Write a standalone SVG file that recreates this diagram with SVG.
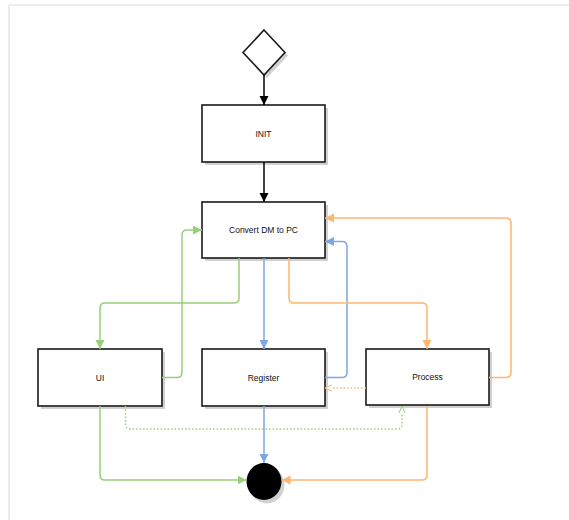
<svg xmlns="http://www.w3.org/2000/svg" width="569" height="520" viewBox="0 0 569 520">
<style>
.box{fill:#fff;stroke:#1a1a1a;stroke-width:1.6}
.shadow{fill:#b3b3b3;opacity:0.6}
.lbl{font-family:"Liberation Sans",Arial,sans-serif;font-size:8.5px;fill:#111;text-anchor:middle;dominant-baseline:central}
.c{fill:none;stroke-width:1.5}
.k{stroke:#000}
.g{stroke:#97D077}
.b{stroke:#7EA6E0}
.o{stroke:#FFB570}
.dot{stroke-dasharray:1.5 2}
</style>
<defs>
<marker id="ak" markerUnits="userSpaceOnUse" markerWidth="10" markerHeight="10" refX="9" refY="4.5" orient="auto"><path d="M0,0 L9,4.5 L0,9 z" fill="#000"/></marker>
<marker id="ag" markerUnits="userSpaceOnUse" markerWidth="10" markerHeight="10" refX="9" refY="4.5" orient="auto"><path d="M0,0 L9,4.5 L0,9 z" fill="#97D077"/></marker>
<marker id="ab" markerUnits="userSpaceOnUse" markerWidth="10" markerHeight="10" refX="9" refY="4.5" orient="auto"><path d="M0,0 L9,4.5 L0,9 z" fill="#7EA6E0"/></marker>
<marker id="ao" markerUnits="userSpaceOnUse" markerWidth="10" markerHeight="10" refX="9" refY="4.5" orient="auto"><path d="M0,0 L9,4.5 L0,9 z" fill="#FFB570"/></marker>
<marker id="og" markerUnits="userSpaceOnUse" markerWidth="10" markerHeight="10" refX="8" refY="4" orient="auto"><path d="M1,1 L8,4 L1,7" fill="#fff" stroke="#97D077" stroke-width="1"/></marker>
<marker id="oo" markerUnits="userSpaceOnUse" markerWidth="10" markerHeight="10" refX="8" refY="4" orient="auto"><path d="M1,1 L8,4 L1,7" fill="#fff" stroke="#FFB570" stroke-width="1"/></marker>
</defs>
<rect x="9" y="5" width="570" height="530" fill="#fff" stroke="#e6e6e6" stroke-width="1.5"/>

<g id="start">
<polygon class="shadow" points="267,33 288,55.5 267,78 246,55.5"/>
<polygon class="box" points="264,30 285,52.5 264,75 243,52.5"/>
</g>
<g id="init">
<rect class="shadow" x="205" y="108" width="123" height="57"/>
<rect class="box" x="202" y="105" width="123" height="57"/>
<text class="lbl" x="263.5" y="133.5">INIT</text>
</g>
<g id="convert">
<rect class="shadow" x="205" y="205" width="123" height="56"/>
<rect class="box" x="202" y="202" width="123" height="56"/>
<text class="lbl" x="263.5" y="230">Convert DM to PC</text>
</g>
<g id="ui">
<rect class="shadow" x="41" y="352" width="124" height="57"/>
<rect class="box" x="38" y="349" width="124" height="57"/>
<text class="lbl" x="100" y="377.5">UI</text>
</g>
<g id="register">
<rect class="shadow" x="205" y="352" width="123" height="57"/>
<rect class="box" x="202" y="349" width="123" height="57"/>
<text class="lbl" x="263.5" y="377.5">Register</text>
</g>
<g id="process">
<rect class="shadow" x="369" y="352" width="123" height="56"/>
<rect class="box" x="366" y="349" width="123" height="56"/>
<text class="lbl" x="427.5" y="377">Process</text>
</g>
<g id="end">
<ellipse cx="267" cy="485" rx="17.5" ry="18.5" fill="#b3b3b3" opacity="0.6"/>
<ellipse cx="264" cy="481.5" rx="17.5" ry="18.5" fill="#000"/>
</g>

<g id="connectors">
<path class="c k" d="M264,75 V105" marker-end="url(#ak)"/>
<path class="c k" d="M264,162 V202" marker-end="url(#ak)"/>
<path class="c g" d="M239,258 V298 Q239,303 234,303 H105 Q100,303 100,308 V349" marker-end="url(#ag)"/>
<path class="c g" d="M162,377.5 H177 Q182,377.5 182,372.5 V235 Q182,230 187,230 H202" marker-end="url(#ag)"/>
<path class="c b" d="M264,258 V349" marker-end="url(#ab)"/>
<path class="c b" d="M325,377.5 H342 Q347,377.5 347,372.5 V246.5 Q347,241.5 342,241.5 H325" marker-end="url(#ab)"/>
<path class="c o" d="M289,258 V298 Q289,303 294,303 H422 Q427,303 427,308 V349" marker-end="url(#ao)"/>
<path class="c o" d="M489,377.5 H506 Q511,377.5 511,372.5 V223 Q511,218 506,218 H325" marker-end="url(#ao)"/>
<path class="c o dot" d="M366,388 H325" marker-end="url(#oo)"/>
<path class="c g dot" d="M125.5,406 V424 Q125.5,429 130.5,429 H397 Q402,429 402,424 V406" marker-end="url(#og)"/>
<path class="c g" d="M100,406 V475 Q100,480 105,480 H246.5" marker-end="url(#ag)"/>
<path class="c b" d="M264,406 V463" marker-end="url(#ab)"/>
<path class="c o" d="M427,406 V475 Q427,480 422,480 H281.5" marker-end="url(#ao)"/>
</g>
</svg>
